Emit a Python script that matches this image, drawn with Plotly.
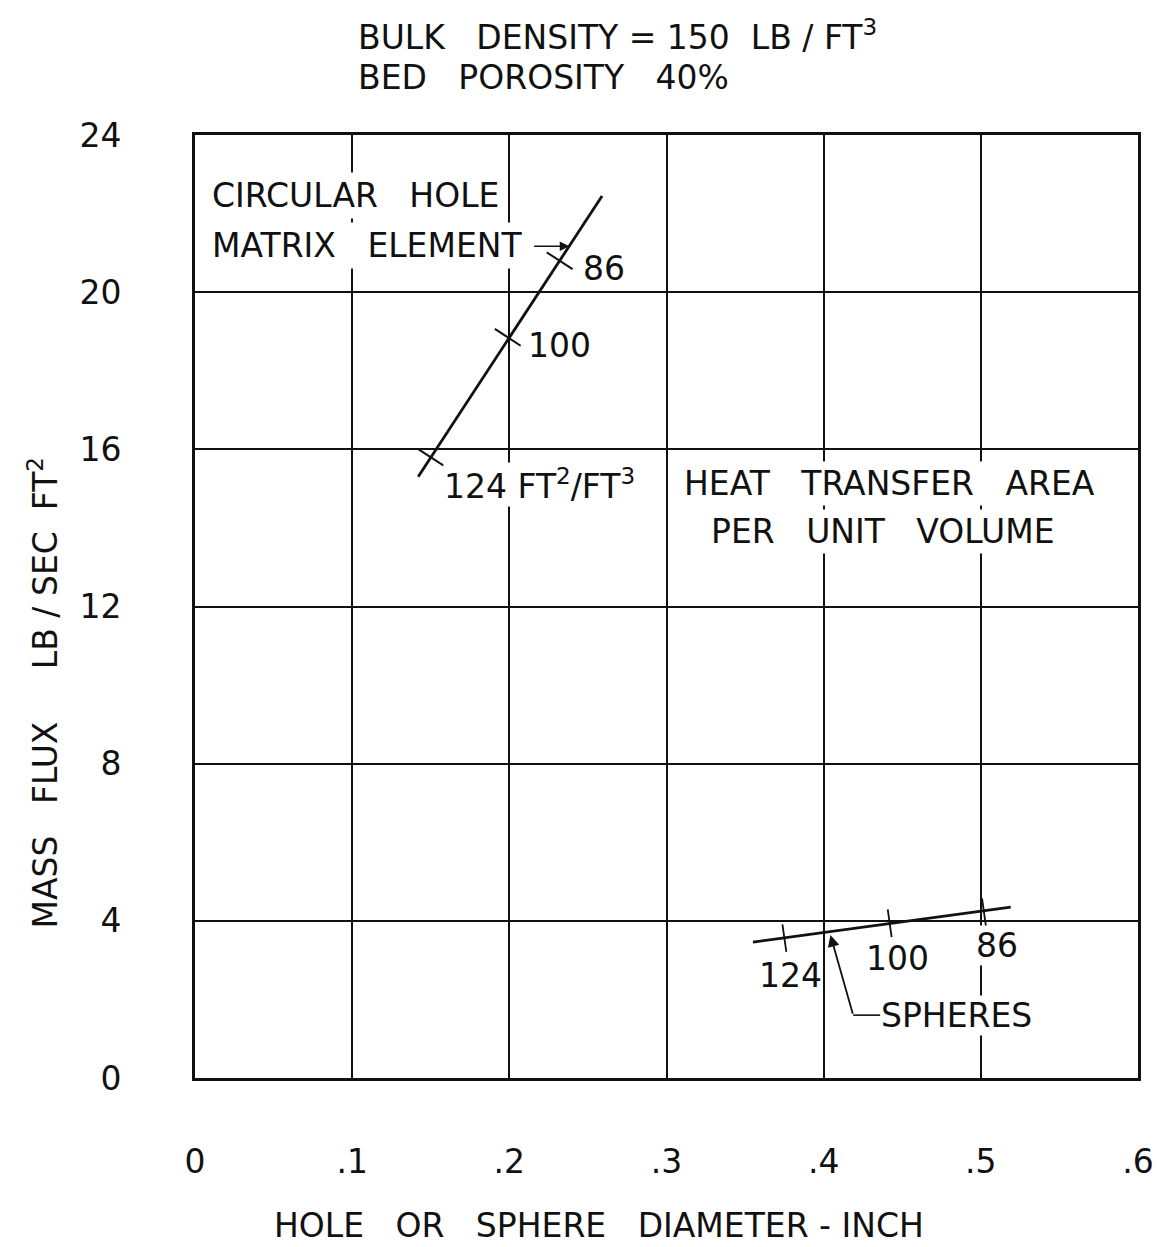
import plotly.graph_objects as go

# ---- data ----
area_labels = ["124", "100", "86"]  # heat transfer area per unit volume, ft2/ft3

matrix_line_x = [0.142, 0.259]
matrix_line_y = [15.3, 22.45]
matrix_tick_x = [0.150, 0.199, 0.232]
matrix_tick_y = [15.8, 18.85, 20.8]

sphere_line_x = [0.355, 0.442, 0.519]
sphere_line_y = [3.46, 3.94, 4.35]
sphere_tick_x = [0.375, 0.442, 0.502]
sphere_tick_y = [3.56, 3.94, 4.22]

x_tickvals = [0, 0.1, 0.2, 0.3, 0.4, 0.5, 0.6]
x_ticktext = ["0", ".1", ".2", ".3", ".4", ".5", ".6"]
y_tickvals = [0, 4, 8, 12, 16, 20, 24]
y_ticktext = ["0", "4", "8", "12", "16", "20", "24"]

FONT = "DejaVu Sans"
FS = 33
BLACK = "#111111"
SP = "&nbsp;&nbsp; "

fig = go.Figure()

fig.add_trace(go.Scatter(x=matrix_line_x, y=matrix_line_y, mode="lines",
                         line=dict(color=BLACK, width=2.8), hoverinfo="skip"))
fig.add_trace(go.Scatter(x=matrix_tick_x, y=matrix_tick_y, mode="markers",
                         marker=dict(symbol="line-ew", size=22, angle=33,
                                     line=dict(color=BLACK, width=2)),
                         hoverinfo="skip"))
fig.add_trace(go.Scatter(x=sphere_line_x, y=sphere_line_y, mode="lines",
                         line=dict(color=BLACK, width=2.8), hoverinfo="skip"))
fig.add_trace(go.Scatter(x=sphere_tick_x, y=sphere_tick_y, mode="markers",
                         marker=dict(symbol="line-ns", size=20, angle=-8,
                                     line=dict(color=BLACK, width=1.8)),
                         hoverinfo="skip"))

ann = []
# matrix area labels
m_shifts = [(12, -27), (19, -8), (22, -8)]
for i, lab in enumerate(area_labels):
    txt = lab
    if i == 0:
        txt = lab + "&nbsp;FT<sup>2</sup>/FT<sup>3</sup>"
    ann.append(dict(x=matrix_tick_x[i], y=matrix_tick_y[i], text=txt, showarrow=False,
                    xanchor="left", yanchor="middle", xshift=m_shifts[i][0],
                    yshift=m_shifts[i][1], bgcolor="white", borderpad=0))
# sphere area labels
s_shifts = [(6, -37), (8, -35), (13, -33)]
for i, lab in enumerate(area_labels):
    ann.append(dict(x=sphere_tick_x[i], y=sphere_tick_y[i], text=lab, showarrow=False,
                    xanchor="center", yanchor="middle", xshift=s_shifts[i][0],
                    yshift=s_shifts[i][1], bgcolor="white", borderpad=0))

ann.append(dict(x=0.442, y=15.14, text="HEAT" + SP + "TRANSFER" + SP + "AREA",
                showarrow=False, xanchor="center", yanchor="middle",
                bgcolor="white", borderpad=2))
ann.append(dict(x=0.438, y=13.9, text="PER" + SP + "UNIT" + SP + "VOLUME",
                showarrow=False, xanchor="center", yanchor="middle",
                bgcolor="white", borderpad=2))
ann.append(dict(x=0.0085, y=22.47, text="CIRCULAR" + SP + "HOLE",
                showarrow=False, xanchor="left", yanchor="middle",
                bgcolor="white", borderpad=3))
ann.append(dict(x=0.0085, y=21.2, text="MATRIX" + SP + "ELEMENT",
                showarrow=False, xanchor="left", yanchor="middle",
                bgcolor="white", borderpad=3))
# matrix element arrow
ann.append(dict(x=0.2382, y=21.17, ax=0.2148, ay=21.17, axref="x", ayref="y",
                text="", showarrow=True, arrowhead=2, arrowsize=1.2, arrowwidth=1.6,
                arrowcolor=BLACK))
# spheres
ann.append(dict(x=0.436, y=1.60, text="SPHERES", showarrow=False, xanchor="left",
                yanchor="middle", bgcolor="white", borderpad=0))
ann.append(dict(x=0.4043, y=3.64, ax=0.4188, ay=1.60, axref="x", ayref="y",
                text="", showarrow=True, arrowhead=2, arrowsize=1.3, arrowwidth=1.8,
                arrowcolor=BLACK))

# titles
ann.append(dict(xref="paper", yref="paper", x=0.1705, y=1.106, xanchor="left", yanchor="middle",
                showarrow=False,
                text="BULK" + SP + "DENSITY = 150&nbsp; LB / FT<sup>3</sup>"))
ann.append(dict(xref="paper", yref="paper", x=0.1705, y=1.0605, xanchor="left", yanchor="middle",
                showarrow=False, text="BED" + SP + "POROSITY" + SP + "40%"))
ann.append(dict(xref="paper", yref="paper", x=0.428, y=-0.156, xanchor="center", yanchor="middle",
                showarrow=False,
                text="HOLE" + SP + "OR" + SP + "SPHERE" + SP + "DIAMETER - INCH"))
ann.append(dict(xref="paper", yref="paper", x=-0.161, y=0.409, xanchor="center", yanchor="middle",
                showarrow=False, textangle=-90,
                text="MASS" + SP + "FLUX" + SP + "&nbsp; LB / SEC&nbsp; FT<sup>2</sup>"))

fig.update_layout(
    width=1166, height=1247,
    margin=dict(l=195, r=22, t=135, b=169),
    paper_bgcolor="white", plot_bgcolor="white",
    showlegend=False,
    font=dict(family=FONT, size=FS, color=BLACK),
    annotations=ann,
    shapes=[dict(type="line", xref="x", yref="y", x0=0.4188, y0=1.60, x1=0.436, y1=1.60,
                 line=dict(color=BLACK, width=1.6))],
)
fig.update_xaxes(range=[0, 0.6], tickvals=x_tickvals, ticktext=x_ticktext,
                 showgrid=True, gridcolor=BLACK, gridwidth=1.5, zeroline=False,
                 showline=True, linecolor=BLACK, linewidth=3, mirror=True,
                 ticks="", ticklabelstandoff=52, tickfont=dict(size=FS))
fig.update_yaxes(range=[0, 24], tickvals=y_tickvals, ticktext=y_ticktext,
                 showgrid=True, gridcolor=BLACK, gridwidth=1.5, zeroline=False,
                 showline=True, linecolor=BLACK, linewidth=3, mirror=True,
                 ticks="", ticklabelstandoff=64, tickfont=dict(size=FS))

fig.write_html("out.html", config={"displayModeBar": False},
               post_script="document.body.style.margin='0px';")
